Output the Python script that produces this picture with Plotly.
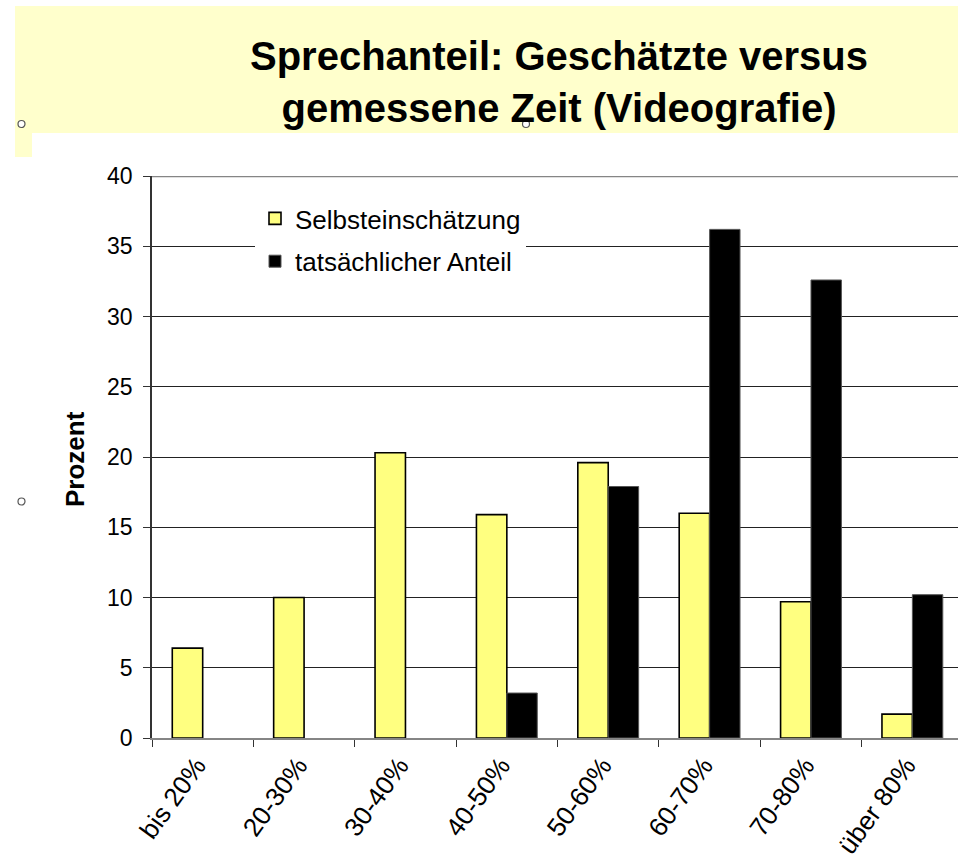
import plotly.graph_objects as go

# Data: share of speaking time, self-estimate vs. measured (video analysis)
categories = ["bis 20%", "20-30%", "30-40%", "40-50%", "50-60%", "60-70%", "70-80%", "über 80%"]
selbsteinschaetzung = [6.4, 10.0, 20.3, 15.9, 19.6, 16.0, 9.7, 1.7]
tatsaechlich = [None, None, None, 3.2, 17.9, 36.2, 32.6, 10.2]
y_ticks = [0, 5, 10, 15, 20, 25, 30, 35, 40]

W, H = 958, 860
ML, MR, MT, MB = 152, 0, 176, 122
PW, PH = W - ML - MR, H - MT - MB


def px_x(x):
    return (x - ML) / PW


def px_y(y):
    return (H - MB - y) / PH


FONT = "Arial, Liberation Sans, sans-serif"

fig = go.Figure()
fig.add_trace(go.Bar(
    x=categories, y=selbsteinschaetzung, name="Selbsteinschätzung",
    legendgroup="a",
    marker=dict(color="#FFFF80", line=dict(color="#000000", width=1.6)),
))
fig.add_trace(go.Bar(
    x=categories, y=tatsaechlich, name="tatsächlicher Anteil",
    legendgroup="b",
    marker=dict(color="#000000", line=dict(color="#555555", width=1)),
))

shapes = [
    # title band
    dict(type="rect", xref="paper", yref="paper", layer="below",
         x0=px_x(15), x1=px_x(960), y0=px_y(133), y1=px_y(6),
         fillcolor="#FFFFCC", line=dict(width=0)),
    dict(type="rect", xref="paper", yref="paper", layer="below",
         x0=px_x(15), x1=px_x(32), y0=px_y(157), y1=px_y(133),
         fillcolor="#FFFFCC", line=dict(width=0)),
    # plot area top border
    dict(type="line", xref="paper", yref="y", x0=0, x1=1.01, y0=40, y1=40,
         line=dict(color="#858585", width=2.5)),
]
# small handle circles
for cx, cy in [(21.5, 124), (526, 124), (21.5, 501.5)]:
    shapes.append(dict(type="circle", xref="paper", yref="paper",
                       xsizemode="pixel", ysizemode="pixel",
                       xanchor=px_x(cx), yanchor=px_y(cy),
                       x0=-3.5, x1=3.5, y0=-3.5, y1=3.5,
                       fillcolor="white", line=dict(color="#555555", width=1.2)))

fig.update_layout(
    width=W, height=H,
    margin=dict(l=ML, r=MR, t=MT, b=MB, pad=0),
    paper_bgcolor="white", plot_bgcolor="white",
    font=dict(family=FONT, color="#000000"),
    barmode="group", bargap=0.4, bargroupgap=0,
    showlegend=True,
    legend=dict(
        x=px_x(255), y=px_y(195), xanchor="left", yanchor="top",
        bgcolor="white", borderwidth=0,
        font=dict(size=26, family=FONT),
        traceorder="grouped", tracegroupgap=6,
        itemwidth=30,
    ),
    title=dict(
        text="<b>Sprechanteil: Geschätzte versus<br>gemessene Zeit (Videografie)</b>",
        x=559 / W, xref="container", xanchor="center",
        y=1 - 70 / H, yref="container", yanchor="middle",
        font=dict(size=40, family=FONT, color="#000000"),
    ),
    shapes=shapes,
    annotations=[
        dict(text="<b>Prozent</b>", textangle=-90, xref="paper", yref="paper",
             x=px_x(75), y=px_y(459), xanchor="center", yanchor="middle",
             showarrow=False, font=dict(size=26, family=FONT)),
    ],
)

fig.update_xaxes(
    type="category", range=[-0.5, 7.45],
    tickson="boundaries", ticks="outside", ticklen=7, tickcolor="#333333",
    showline=True, linecolor="#858585", linewidth=2,
    showgrid=False, tickangle=-54,
    tickfont=dict(size=26, family=FONT),
    ticklabelshift=-6,
)
fig.update_yaxes(
    range=[0, 40], tickvals=y_ticks,
    ticks="outside", ticklen=7, tickcolor="#333333",
    showline=True, linecolor="#333333", linewidth=1.5,
    showgrid=True, gridcolor="#222222", gridwidth=1.2,
    zeroline=False,
    tickfont=dict(size=23, family=FONT),
    ticklabelstandoff=6,
)

fig.write_html("out.html")
